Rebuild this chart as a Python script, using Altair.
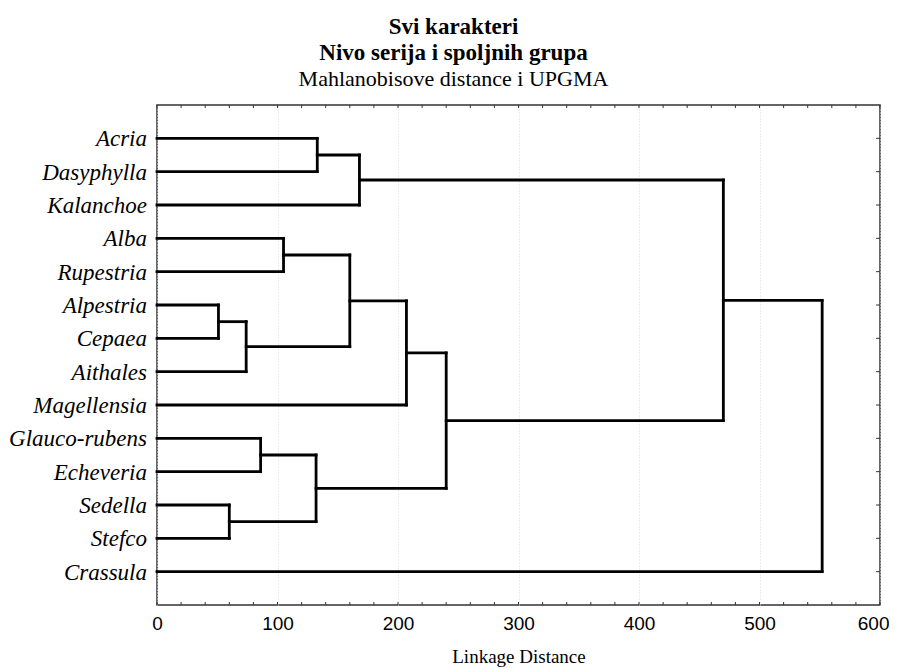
import altair as alt
import pandas as pd

# ---- data ----
leaves = ["Acria", "Dasyphylla", "Kalanchoe", "Alba", "Rupestria", "Alpestria",
          "Cepaea", "Aithales", "Magellensia", "Glauco-rubens", "Echeveria",
          "Sedella", "Stefco", "Crassula"]
# merges: (child a, child b, linkage distance); new cluster ids start at len(leaves)
merge_a = [5, 11, 14, 9, 3, 17, 0, 18, 20, 21, 23, 22, 25]
merge_b = [6, 12, 7, 10, 4, 15, 1, 16, 2, 8, 19, 24, 13]
merge_h = [51, 60, 74, 86, 105, 132, 133, 160, 168, 207, 240, 470, 552]

x_ticks_major = [0, 100, 200, 300, 400, 500, 600]
x_ticks_minor = list(range(0, 601, 20))

# ---- build segments from the tree ----
pos = {i: float(i + 1) for i in range(len(leaves))}
hgt = {i: 0.0 for i in range(len(leaves))}
segs = []
nid = len(leaves)
for a, b, h in zip(merge_a, merge_b, merge_h):
    segs.append(dict(x=hgt[a], x2=h, y=pos[a], y2=pos[a]))
    segs.append(dict(x=hgt[b], x2=h, y=pos[b], y2=pos[b]))
    segs.append(dict(x=h, x2=h, y=pos[a], y2=pos[b]))
    pos[nid] = (pos[a] + pos[b]) / 2
    hgt[nid] = h
    nid += 1
seg_df = pd.DataFrame(segs)
leaf_df = pd.DataFrame({"name": leaves, "y": [pos[i] for i in range(len(leaves))]})

W, H = 723, 500
xscale = alt.Scale(domain=[0, 600], nice=False, zero=False)
yscale = alt.Scale(domain=[0, len(leaves) + 1], reverse=True, nice=False, zero=False)

tree = alt.Chart(seg_df).mark_rule(color="black", strokeWidth=2.8, strokeCap="square").encode(
    x=alt.X("x:Q", scale=xscale,
            axis=alt.Axis(values=x_ticks_major, title="Linkage Distance",
                          labelAlign=alt.condition("datum.value >= 600",
                                                   alt.value("right"), alt.value("center")),
                          labelOffset=alt.condition("datum.value >= 600",
                                                    alt.value(9), alt.value(0)))),
    x2="x2:Q",
    y=alt.Y("y:Q", scale=yscale, axis=None),
    y2="y2:Q",
)

# leaf labels to the left of the plot
leaf_labels = alt.Chart(leaf_df).mark_text(
    align="right", baseline="middle", dx=-10, dy=1,
    font="Liberation Serif", fontStyle="italic", fontSize=23, color="black",
).encode(
    x=alt.value(0),
    y=alt.Y("y:Q", scale=yscale, axis=None),
    text="name:N",
)

# inward ticks (right side at leaf rows, top and bottom every 20)
right_ticks = alt.Chart(leaf_df).mark_rule(color="#333", strokeWidth=1).encode(
    y=alt.Y("y:Q", scale=yscale, axis=None), x=alt.value(W - 4), x2=alt.value(W))

tb_df = pd.DataFrame({"x": x_ticks_minor})
top_ticks = alt.Chart(tb_df).mark_rule(color="#333", strokeWidth=1).encode(
    x=alt.X("x:Q", scale=xscale), y=alt.value(0), y2=alt.value(3))
bot_ticks = alt.Chart(tb_df).mark_rule(color="#333", strokeWidth=1).encode(
    x=alt.X("x:Q", scale=xscale), y=alt.value(H - 3), y2=alt.value(H))

chart = alt.layer(tree, leaf_labels, right_ticks, top_ticks, bot_ticks).properties(
    width=W, height=H,
    background="white",
    autosize=alt.AutoSizeParams(type="none"),
    padding={"left": 149, "top": 97, "right": 9, "bottom": 63},
    title=alt.TitleParams(
        text=["Svi karakteri", "Nivo serija i spoljnih grupa"],
        subtitle="Mahlanobisove distance i UPGMA",
        font="Liberation Serif", fontSize=23, fontWeight="bold", color="black",
        subtitleFont="Liberation Serif", subtitleFontSize=22, subtitleColor="black",
        subtitlePadding=4, lineHeight=26, subtitleLineHeight=22,
        anchor="middle", dx=-65, offset=15),
).configure_view(
    stroke="#333", strokeWidth=1.5
).configure_axis(
    labelOverlap=False, labelFlush=False, ticks=False, domain=False, labelColor="black",
).configure_axisX(
    grid=True, gridColor="#d8d8d8", gridDash=[1, 2], gridWidth=1,
    labelFont="Liberation Sans", labelFontSize=19, labelPadding=9,
    titleFont="Liberation Serif", titleFontSize=19, titleFontWeight="normal",
    titleColor="black", titlePadding=14,
)

chart.save("out.html", embed_options={"renderer": "svg", "actions": False})
